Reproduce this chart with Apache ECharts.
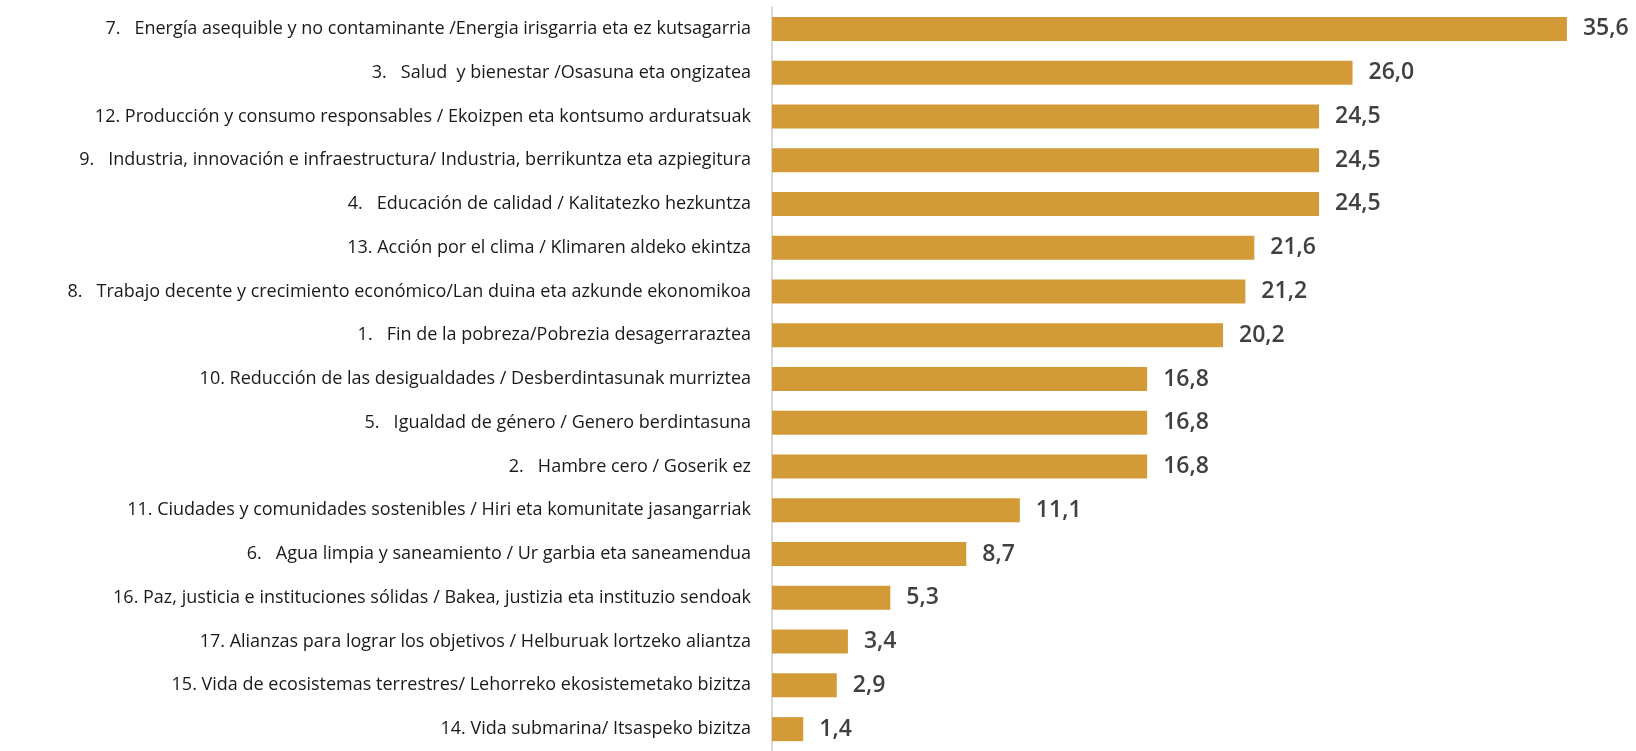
<!DOCTYPE html>
<html>
<head>
<meta charset="utf-8">
<script src="https://cdn.jsdelivr.net/npm/echarts@6/dist/echarts.min.js"></script>
<style>
  html, body { margin: 0; padding: 0; background: #fff; }
  #chart { width: 1636px; height: 751px; }
</style>
</head>
<body>
<div id="chart"></div>
<script>
// categorias (de arriba a abajo)
var categories = [
    '7.   Energía asequible y no contaminante /Energia irisgarria eta ez kutsagarria',
    '3.   Salud  y bienestar /Osasuna eta ongizatea',
    '12. Producción y consumo responsables / Ekoizpen eta kontsumo arduratsuak',
    '9.   Industria, innovación e infraestructura/ Industria, berrikuntza eta azpiegitura',
    '4.   Educación de calidad / Kalitatezko hezkuntza',
    '13. Acción por el clima / Klimaren aldeko ekintza',
    '8.   Trabajo decente y crecimiento económico/Lan duina eta azkunde ekonomikoa',
    '1.   Fin de la pobreza/Pobrezia desagerraraztea',
    '10. Reducción de las desigualdades / Desberdintasunak murriztea',
    '5.   Igualdad de género / Genero berdintasuna',
    '2.   Hambre cero / Goserik ez',
    '11. Ciudades y comunidades sostenibles / Hiri eta komunitate jasangarriak',
    '6.   Agua limpia y saneamiento / Ur garbia eta saneamendua',
    '16. Paz, justicia e instituciones sólidas / Bakea, justizia eta instituzio sendoak',
    '17. Alianzas para lograr los objetivos / Helburuak lortzeko aliantza',
    '15. Vida de ecosistemas terrestres/ Lehorreko ekosistemetako bizitza',
    '14. Vida submarina/ Itsaspeko bizitza'
];
var values = [35.6, 26.0, 24.5, 24.5, 24.5, 21.6, 21.2, 20.2, 16.8, 16.8, 16.8, 11.1, 8.7, 5.3, 3.4, 2.9, 1.4];

var chart = echarts.init(document.getElementById('chart'));
var option = {
    animation: false,
    grid: {
        left: 772,
        top: 7,
        width: 848.5,
        height: 752
    },
    xAxis: {
        type: 'value',
        min: 0,
        max: 38,
        show: false
    },
    yAxis: {
        type: 'category',
        inverse: true,
        data: categories,
        axisLine: {
            show: true,
            lineStyle: { color: '#d9d9d9', width: 2 }
        },
        axisTick: { show: false },
        axisLabel: {
            margin: 21,
            color: '#1a1a1a',
            fontFamily: 'Open Sans, sans-serif',
            fontSize: 18
        }
    },
    series: [{
        type: 'bar',
        data: values,
        barWidth: 24,
        itemStyle: { color: '#d39b37' },
        label: {
            show: true,
            position: 'right',
            distance: 16,
            color: '#404040',
            fontFamily: 'Open Sans, sans-serif',
            fontWeight: 600,
            fontSize: 23,
            formatter: function (p) {
                return p.value.toFixed(1).replace('.', ',');
            }
        }
    }]
};
chart.setOption(option);
</script>
</body>
</html>
